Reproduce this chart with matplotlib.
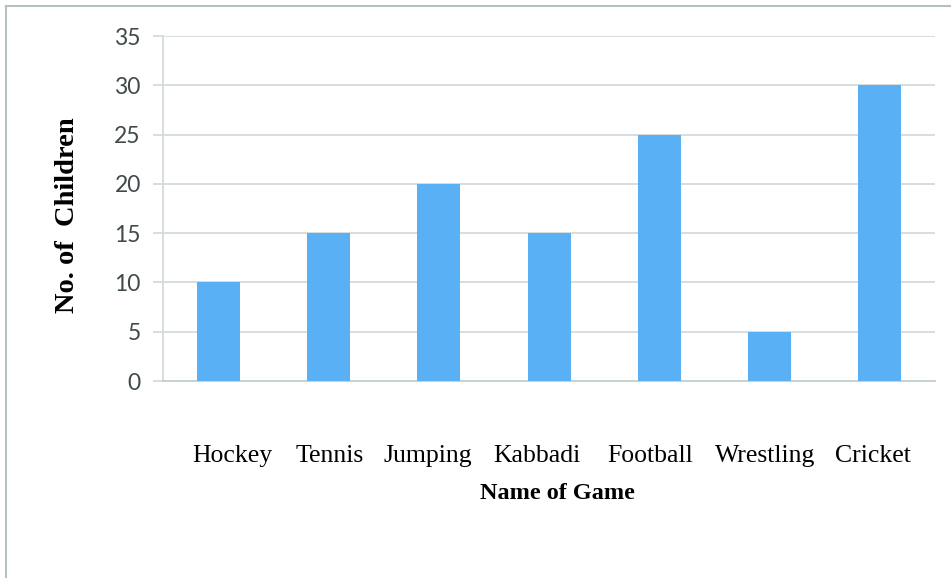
import matplotlib
matplotlib.use("Agg")
import matplotlib.pyplot as plt
from matplotlib.lines import Line2D
from matplotlib.transforms import ScaledTranslation

games = ["Hockey", "Tennis", "Jumping", "Kabbadi", "Football", "Wrestling", "Cricket"]
children = [10, 15, 20, 15, 25, 5, 30]
y_ticks = [0, 5, 10, 15, 20, 25, 30, 35]

fig = plt.figure(figsize=(9.51, 5.78), dpi=100)
ax = fig.add_axes([0.1714, 0.3408, 0.8118, 0.5969])

grid_c = "#d3dbdb"
ax.bar(range(len(games)), children, width=0.39, color="#5ab0f5", zorder=3)
ax.set_xlim(-0.5, len(games) - 0.5)
ax.set_ylim(0, 35)
ax.set_yticks(y_ticks)
ax.set_yticklabels([str(v) for v in y_ticks], fontfamily="Lato", fontsize=16.5, color="#3f4a4a")
ax.yaxis.grid(True, color=grid_c, linewidth=1.3, zorder=0)
ax.tick_params(axis="y", length=7, color=grid_c, width=1.3, pad=9)
ax.set_xticks(range(len(games)))
ax.set_xticklabels(games, fontfamily="Liberation Serif", fontsize=18.5, color="black")
ax.tick_params(axis="x", length=0, pad=46)

# hand-spaced category labels: nudge each one sideways (in pixels)
nudges_px = [14, 1, -11, -12, -9, -4, -7]
for lbl, dx in zip(ax.get_xticklabels(), nudges_px):
    lbl.set_transform(lbl.get_transform() + ScaledTranslation(dx / 100, 0, fig.dpi_scale_trans))

for s in ["top", "right"]:
    ax.spines[s].set_visible(False)
ax.spines["left"].set_color(grid_c)
ax.spines["left"].set_linewidth(1.3)
ax.spines["bottom"].set_color("#c5cfcf")
ax.spines["bottom"].set_linewidth(1.3)

fig.text(0.071, 0.628, "No. of  Children", rotation=90, ha="center", va="center",
         fontfamily="Liberation Serif", fontweight="bold", fontsize=20.5)
fig.text(0.586, 0.147, "Name of Game", ha="center", va="center",
         fontfamily="Liberation Serif", fontweight="bold", fontsize=17.5)

# outer frame lines (top and left)
border = "#b5c1c1"
fig.add_artist(Line2D([0.0063, 1.0], [0.9896, 0.9896], color=border, linewidth=1.5,
                      transform=fig.transFigure))
fig.add_artist(Line2D([0.0063, 0.0063], [0.0, 0.9896], color=border, linewidth=1.5,
                      transform=fig.transFigure))

fig.savefig("out.png", dpi=100)
